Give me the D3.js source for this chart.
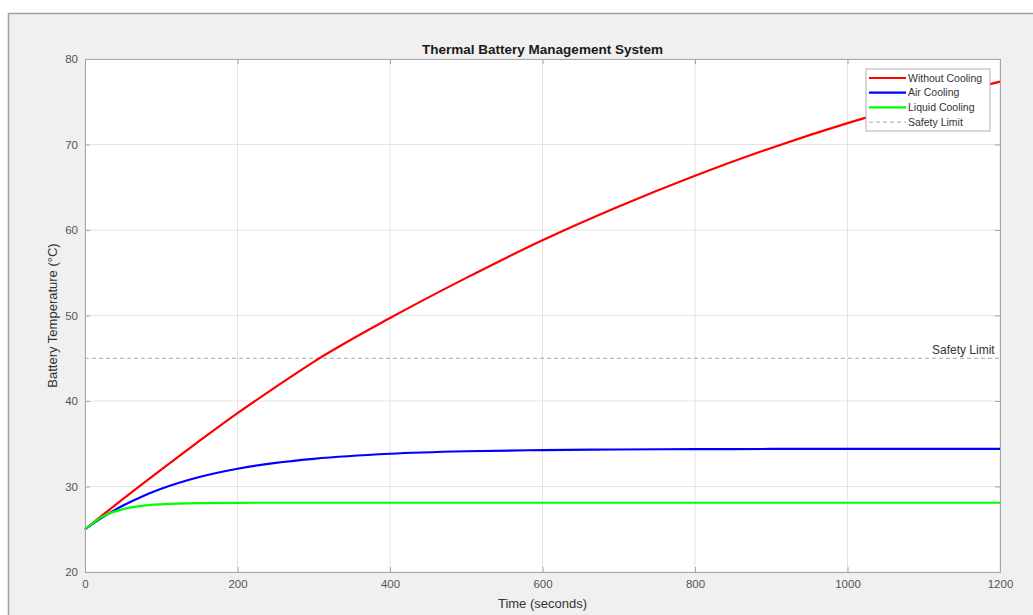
<!DOCTYPE html>
<html lang="en">
  <head>
    <meta charset="utf-8">
    <title>Thermal Battery Management System</title>
    <script src="https://d3js.org/d3.v7.min.js"></script>
    <style type="text/css">
body,html{
    margin: 0;
    padding: 0;
    background: #ffffff;
    font-family: "Liberation Sans", Arial, sans-serif;
  }
  .tick text{
    font-size: 11.5px;
    fill: #555555;
  }
    </style>
  </head>
  <body>
    <script type="text/javascript">

      // time samples (seconds)
      var times = [0, 25, 50, 75, 100, 150, 200, 250, 300, 400, 500, 600, 700, 800, 900, 1000, 1100, 1200];

      // temperatures (°C)
      var withoutCooling = [25, 26.8, 28.55, 30.28, 31.98, 35.33, 38.58, 41.63, 44.58, 49.7, 54.4, 58.8, 62.75, 66.35, 69.6, 72.5, 75.05, 77.35];
      var airCooling     = [25, 26.5, 27.77, 28.84, 29.73, 31.11, 32.08, 32.77, 33.24, 33.83, 34.12, 34.26, 34.33, 34.37, 34.39, 34.4, 34.4, 34.4];
      var liquidCooling  = [25, 26.58, 27.36, 27.74, 27.92, 28.06, 28.09, 28.1, 28.1, 28.1, 28.1, 28.1, 28.1, 28.1, 28.1, 28.1, 28.1, 28.1];
      var safetyLimit = 45;

      var seriesNames = ["Without Cooling", "Air Cooling", "Liquid Cooling"];
      var seriesColors = ["#ff0000", "#0000ff", "#00ff00"];
      var seriesValues = [withoutCooling, airCooling, liquidCooling];

      var xTicks = [0, 200, 400, 600, 800, 1000, 1200];
      var yTicks = [20, 30, 40, 50, 60, 70, 80];

      var w = 1033;
      var h = 615;

      var margin = {
          top: 59,
          bottom: 43,
          left: 85,
          right: 33
        }

      var width = w - margin.left - margin.right;
      var height = h - margin.top - margin.bottom;

      var svg = d3.select("body")
        .append("svg")
        .attr("width", w)
        .attr("height", h)

      // figure background
      svg.append("rect")
        .attr("x", 8.5)
        .attr("y", 13.5)
        .attr("width", w)
        .attr("height", h)
        .style("fill", "#f0f0f0")
        .style("stroke", "#a0a0a0")
        .style("stroke-width", 1.5)

      var g = svg.append("g")
        .attr("transform", "translate(" + margin.left + "," + margin.top + ")")

      g.append("rect")
        .attr("width", width)
        .attr("height", height)
        .style("fill", "#ffffff")

      var x = d3.scaleLinear().domain([0, 1200]).range([0, width]);
      var y = d3.scaleLinear().domain([20, 80]).range([height, 0]);

      // grid
      g.append("g")
        .selectAll("line.vg")
        .data(xTicks)
        .enter()
        .append("line")
        .attr("x1", function(d){ return x(d); })
        .attr("x2", function(d){ return x(d); })
        .attr("y1", 0)
        .attr("y2", height)
        .style("stroke", "#e3e3e3")
        .style("stroke-width", 1)

      g.append("g")
        .selectAll("line.hg")
        .data(yTicks)
        .enter()
        .append("line")
        .attr("y1", function(d){ return y(d); })
        .attr("y2", function(d){ return y(d); })
        .attr("x1", 0)
        .attr("x2", width)
        .style("stroke", "#e3e3e3")
        .style("stroke-width", 1)

      // safety limit
      g.append("line")
        .attr("x1", 0)
        .attr("x2", width)
        .attr("y1", y(safetyLimit))
        .attr("y2", y(safetyLimit))
        .style("stroke", "#a8a8a8")
        .style("stroke-width", 1)
        .style("stroke-dasharray", "4,3")

      g.append("text")
        .attr("x", x(1193))
        .attr("y", y(safetyLimit) - 4)
        .attr("text-anchor", "end")
        .style("font-size", "12px")
        .style("fill", "#333333")
        .text("Safety Limit")

      // curves
      var line = d3.line()
        .x(function(d, i){ return x(times[i]); })
        .y(function(d){ return y(d); })
        .curve(d3.curveMonotoneX)

      g.selectAll("path.series")
        .data(seriesValues)
        .enter()
        .append("path")
        .attr("class", "series")
        .attr("d", line)
        .style("fill", "none")
        .style("stroke", function(d, i){ return seriesColors[i]; })
        .style("stroke-width", 2.2)

      // axes, ticks inside on all four sides
      var axisColor = "#a6a6a6";
      function styleAxis(sel){
        sel.select(".domain").style("stroke", axisColor);
        sel.selectAll(".tick line").style("stroke", axisColor);
      }

      g.append("g")
        .attr("transform", "translate(0," + height + ")")
        .call(d3.axisBottom(x).tickValues(xTicks).tickFormat(d3.format("d")).tickSizeInner(-5).tickSizeOuter(0).tickPadding(8))
        .call(styleAxis)

      g.append("g")
        .call(d3.axisLeft(y).tickValues(yTicks).tickSizeInner(-5).tickSizeOuter(0).tickPadding(7))
        .call(styleAxis)

      g.append("g")
        .call(d3.axisTop(x).tickValues(xTicks).tickSizeInner(-5).tickSizeOuter(0).tickFormat(""))
        .call(styleAxis)

      g.append("g")
        .attr("transform", "translate(" + width + ",0)")
        .call(d3.axisRight(y).tickValues(yTicks).tickSizeInner(-5).tickSizeOuter(0).tickFormat(""))
        .call(styleAxis)

      // title and labels
      svg.append("text")
        .attr("x", margin.left + width / 2)
        .attr("y", 54)
        .attr("text-anchor", "middle")
        .style("font-size", "13.5px")
        .style("font-weight", "bold")
        .style("fill", "#1a1a1a")
        .text("Thermal Battery Management System")

      svg.append("text")
        .attr("x", margin.left + width / 2)
        .attr("y", 608)
        .attr("text-anchor", "middle")
        .style("font-size", "13px")
        .style("fill", "#333333")
        .text("Time (seconds)")

      svg.append("text")
        .attr("transform", "translate(57," + (margin.top + height / 2) + ")rotate(-90)")
        .attr("text-anchor", "middle")
        .style("font-size", "13px")
        .style("fill", "#333333")
        .text("Battery Temperature (°C)")

      // legend
      var legend = svg.append("g")
        .attr("transform", "translate(866,69)")

      legend.append("rect")
        .attr("width", 124)
        .attr("height", 62)
        .style("fill", "#ffffff")
        .style("stroke", "#b0b0b0")
        .style("stroke-width", 1)

      var legendItems = seriesNames.concat(["Safety Limit"]);
      var item = legend.selectAll("g.item")
        .data(legendItems)
        .enter()
        .append("g")
        .attr("class", "item")
        .attr("transform", function(d, i){ return "translate(0," + (9 + i * 14.7) + ")"; })

      item.append("line")
        .attr("x1", 3)
        .attr("x2", 40)
        .style("stroke", function(d, i){ return i < 3 ? seriesColors[i] : "#a8a8a8"; })
        .style("stroke-width", function(d, i){ return i < 3 ? 2.2 : 1; })
        .style("stroke-dasharray", function(d, i){ return i < 3 ? null : "4,3"; })

      item.append("text")
        .attr("x", 42)
        .attr("dy", "0.35em")
        .style("font-size", "10.5px")
        .style("fill", "#333333")
        .text(function(d){ return d; })

    </script>
  </body>
</html>
